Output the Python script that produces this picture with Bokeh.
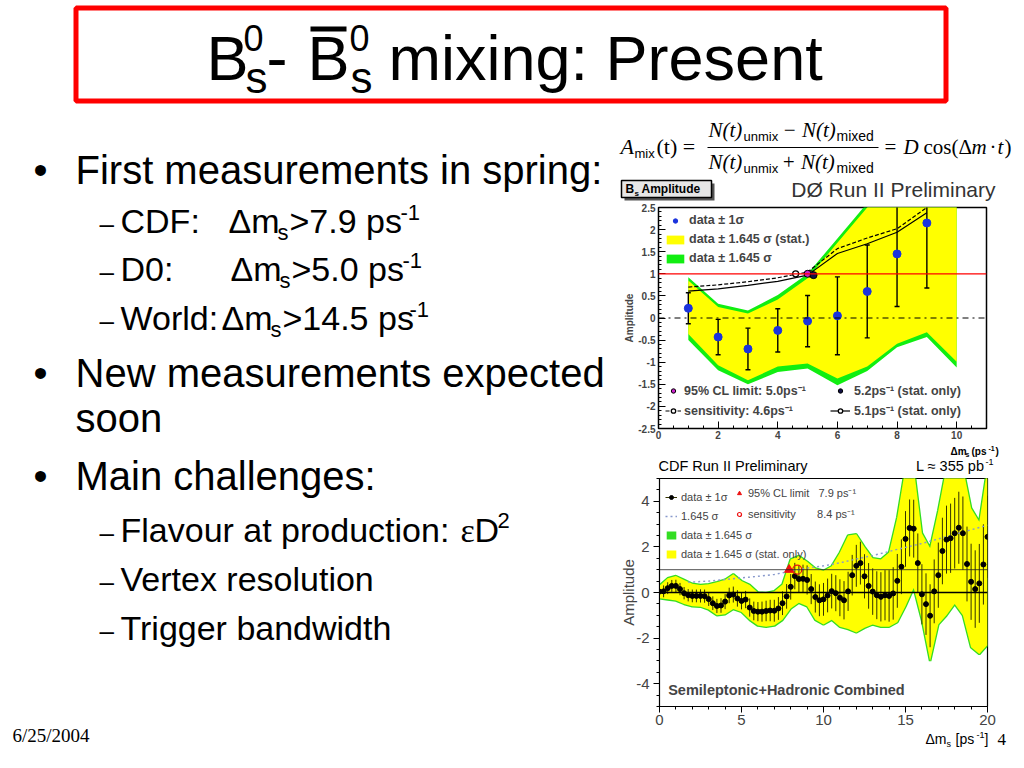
from bokeh.plotting import figure
from bokeh.layouts import column, row
from bokeh.models import (Range1d, Label, Legend, LegendItem, FixedTicker, Span,
                          ColumnDataSource)
from bokeh.embed import file_html
from bokeh.resources import INLINE

# ---------------- D0 data ----------------
d0_x = [1, 2, 3, 4, 5, 6, 7, 8, 9]
d0_amp = [0.22, -0.43, -0.70, -0.28, -0.07, 0.05, 0.60, 1.45, 2.15]
d0_err = [0.35, 0.40, 0.47, 0.49, 0.58, 0.88, 1.05, 1.19, 1.47]
d0_band_x = [1, 2, 3, 4, 5, 6, 7, 8, 9, 10]
d0_stat_hi = [0.85, 0.25, 0.10, 0.42, 0.90, 1.70, 2.50, 3.40, 4.60, 4.80]
d0_stat_lo = [-0.36, -1.07, -1.41, -1.10, -1.03, -1.37, -1.10, -0.58, -0.32, -0.99]
d0_tot_hi = [0.92, 0.32, 0.17, 0.52, 1.00, 1.80, 2.60, 3.60, 4.80, 5.00]
d0_tot_lo = [-0.50, -1.18, -1.50, -1.22, -1.14, -1.52, -1.20, -0.66, -0.43, -1.12]
d0_sens_x = [1, 2, 3, 4, 5, 6, 7, 8, 9]
d0_sens_tot = [0.70, 0.75, 0.82, 0.91, 1.04, 1.57, 1.81, 2.02, 2.50]
d0_sens_stat = [0.61, 0.66, 0.74, 0.83, 0.97, 1.46, 1.68, 1.94, 2.38]
d0_cross_x = [4.6, 5.1]
d0_cross_y = [1.0, 1.0]
d0_limit_x = [5.0]
d0_limit_y = [1.0]
d0_limstat_x = [5.2]
d0_limstat_y = [0.97]

# ---------------- CDF data ----------------
cdf_x = [0.0, 0.25, 0.5, 0.75, 1.0, 1.25, 1.5, 1.75, 2.0, 2.25, 2.5, 2.75, 3.0, 3.25, 3.5, 3.75,
         4.0, 4.25, 4.5, 4.75, 5.0, 5.25, 5.5, 5.75, 6.0, 6.25, 6.5, 6.75, 7.0, 7.25, 7.5, 7.75,
         8.0, 8.25, 8.5, 8.75, 9.0, 9.25, 9.5, 9.75, 10.0, 10.25, 10.5, 10.75, 11.0, 11.25, 11.5, 11.75,
         12.0, 12.25, 12.5, 12.75, 13.0, 13.25, 13.5, 13.75, 14.0, 14.25, 14.5, 14.75, 15.0, 15.25, 15.5, 15.75,
         16.0, 16.25, 16.5, 16.75, 17.0, 17.25, 17.5, 17.75, 18.0, 18.25, 18.5, 18.75, 19.0, 19.25, 19.5, 19.75, 20.0]
cdf_amp = [0.04, 0.05, 0.19, 0.29, 0.29, 0.15, -0.03, -0.12, -0.15, -0.15, -0.15, -0.16, -0.29, -0.47, -0.59, -0.57,
           -0.40, -0.13, -0.09, -0.26, -0.37, -0.31, -0.66, -0.81, -0.84, -0.84, -0.81, -0.79, -0.80, -0.70, -0.47, -0.17,
           0.25, 0.72, 0.59, 0.60, 0.55, 0.15, -0.20, -0.34, -0.30, -0.13, 0.06, -0.03, -0.23, -0.34, 0.05, 0.76,
           1.17, 1.29, 0.71, 0.29, 0.04, -0.12, -0.19, -0.12, -0.15, -0.04, 0.51, 1.13, 2.35, 2.83, 2.80, 1.29,
           -0.08, -0.51, -1.02, 0.05, 0.76, 1.82, 2.32, 2.38, 2.60, 2.84, 2.60, 1.25, 0.47, 0.15, 0.40, 1.23, 2.44]
cdf_err = [0.26, 0.26, 0.26, 0.26, 0.27, 0.27, 0.27, 0.27, 0.28,
           0.28, 0.29, 0.29, 0.30, 0.30, 0.31, 0.32, 0.33,
           0.34, 0.35, 0.36, 0.37, 0.38, 0.40, 0.41, 0.42,
           0.44, 0.45, 0.47, 0.48, 0.50, 0.52, 0.54, 0.56,
           0.58, 0.60, 0.62, 0.64, 0.66, 0.68, 0.70, 0.72,
           0.74, 0.76, 0.79, 0.81, 0.84, 0.86, 0.89, 0.92,
           0.94, 0.97, 1.00, 1.02, 1.05, 1.08, 1.10, 1.13,
           1.15, 1.18, 1.20, 1.22, 1.25, 1.27, 1.30, 1.32,
           1.35, 1.38, 1.40, 1.43, 1.46, 1.49, 1.52, 1.55,
           1.58, 1.61, 1.64, 1.67, 1.70, 1.73, 1.76, 1.80]
cdf_band_x = [0, 0.5, 1, 1.5, 2, 2.5, 3, 3.5, 4, 4.5, 5, 5.5, 6, 6.5, 7, 7.5, 8, 8.5, 9, 9.5, 10,
              10.5, 11, 11.5, 12, 12.5, 13, 13.5, 14, 14.5, 15, 15.5, 16, 16.5, 17, 17.5, 18, 18.5, 19, 19.5, 20]
cdf_stat_hi = [0.30, 0.62, 0.72, 0.55, 0.38, 0.33, 0.36, 0.45, 0.56, 0.80, 0.50, 0.33, 0.00, -0.02, 0.05, 0.35,
               1.45, 1.60, 1.35, 1.05, 0.95, 1.15, 1.75, 2.50, 2.55, 2.00, 1.50, 1.45, 1.75, 3.30, 5.50, 5.50,
               2.60, 1.95, 3.60, 5.50, 5.50, 5.50, 3.70, 3.10, 5.50]
cdf_stat_lo = [-0.25, -0.30, -0.35, -0.50, -0.60, -0.62, -0.75, -1.00, -0.95, -0.72, -0.85, -1.20, -1.45, -1.50,
               -1.45, -1.20, -0.70, -0.45, -0.60, -1.20, -1.40, -1.20, -1.50, -1.60, -1.75, -1.55, -1.40, -1.50,
               -1.50, -1.30, -0.60, 0.20, -1.20, -3.00, -1.40, -1.00, -0.50, -1.00, -2.40, -2.70, -2.30]
cdf_sens_x = [1.75, 3, 4, 5, 6, 7, 8, 9, 10, 11, 12, 13, 14, 15, 16, 17, 18, 19, 20]
cdf_sens_y = [0.45, 0.50, 0.57, 0.64, 0.71, 0.79, 0.94, 1.07, 1.17, 1.30, 1.47, 1.62, 1.80, 1.98, 2.15, 2.35,
              2.55, 2.75, 2.95]
cdf_limit_x = [7.9]
cdf_limit_y = [1.0]
cdf_senspt_x = [8.4]
cdf_senspt_y = [1.0]

SANS = "Liberation Sans"
SERIF = "Liberation Serif"


def T(fig, x, y, text, size, font=SANS, style="normal", color="black", align="left"):
    # y is the wanted text baseline (picture pixels); placed by its middle
    fig.add_layout(Label(x=x, y=y - 0.36 * size, text=text, text_font=font,
                         text_font_size=f"{size}px", text_font_style=style,
                         text_color=color, text_align=align, text_baseline="middle"))


def blank(w, h, xr, yr):
    p = figure(width=w, height=h, x_range=Range1d(*xr), y_range=Range1d(*yr),
               output_backend="svg", toolbar_location=None, min_border=0,
               x_axis_location=None, y_axis_location=None, frame_align=False)
    p.grid.visible = False
    p.outline_line_color = None
    p.background_fill_color = "white"
    p.border_fill_color = "white"
    return p


# ---------------- title ----------------
tf = blank(1024, 110, (0, 1024), (110, 0))
tf.quad(left=[75.5], right=[945.5], top=[7.5], bottom=[100.5], fill_color="white",
        line_color="#ff0000", line_width=5)
T(tf, 206, 80, "B", 63)
T(tf, 243, 50, "0", 36)
T(tf, 245, 93, "s", 44)
T(tf, 266, 80, "-", 63)
T(tf, 307, 80, "B", 63)
tf.quad(left=[310], right=[346], top=[26], bottom=[31], fill_color="black", line_color=None)
T(tf, 349, 50, "0", 36)
T(tf, 350, 93, "s", 44)
T(tf, 388, 80, "mixing: Present", 63)

# ---------------- left text ----------------
lf = blank(608, 658, (0, 608), (768, 110))
for yb, txt in [(184, "First measurements in spring:"), (387, "New measurements expected"),
                (490, "Main challenges:")]:
    T(lf, 33, yb, "\u2022", 40)
    T(lf, 75, yb, txt, 40)
T(lf, 75, 432, "soon", 40)
for yb in [233, 281, 330, 542, 591, 640]:
    T(lf, 99, yb, "\u2013", 26)
T(lf, 120, 233, "CDF:", 34)
T(lf, 228, 233, "\u0394m", 34)
T(lf, 277, 240, "s", 22)
T(lf, 289, 233, ">7.9 ps", 34)
T(lf, 400, 220, "-1", 22)
T(lf, 120, 281, "D0:", 34)
T(lf, 230, 281, "\u0394m", 34)
T(lf, 279, 288, "s", 22)
T(lf, 291, 281, ">5.0 ps", 34)
T(lf, 402, 268, "-1", 22)
T(lf, 120, 330, "World:", 34)
T(lf, 221, 330, "\u0394m", 34)
T(lf, 270, 337, "s", 22)
T(lf, 282, 330, ">14.5 ps", 34)
T(lf, 409, 317, "-1", 22)
T(lf, 120, 542, "Flavour at production:", 34)
T(lf, 460, 542, "\u03b5", 34, font=SERIF)
T(lf, 474, 542, "D", 34)
T(lf, 497, 528, "2", 22)
T(lf, 120, 591, "Vertex resolution", 34)
T(lf, 120, 640, "Trigger bandwidth", 34)
T(lf, 12, 742, "6/25/2004", 19, font=SERIF)

# ---------------- header (formula) ----------------
hf = blank(416, 91, (608, 1024), (201, 110))
T(hf, 620, 154, "A", 22, font=SERIF, style="italic")
T(hf, 634, 158, "mix", 13)
T(hf, 656, 154, "(t) =", 22, font=SERIF)
T(hf, 708, 137, "N(t)", 21, font=SERIF, style="italic")
T(hf, 743, 141, "unmix", 13)
T(hf, 782, 137, "\u2212 N(t)", 21, font=SERIF, style="italic")
T(hf, 836, 141, "mixed", 14)
hf.segment(x0=[707], y0=[147], x1=[878], y1=[147], line_color="black", line_width=1.2)
T(hf, 708, 169, "N(t)", 21, font=SERIF, style="italic")
T(hf, 743, 173, "unmix", 13)
T(hf, 781, 169, "+ N(t)", 21, font=SERIF, style="italic")
T(hf, 836, 173, "mixed", 14)
T(hf, 884, 154, "=", 21, font=SERIF)
T(hf, 903, 154, "D", 21, font=SERIF, style="italic")
T(hf, 923, 154, "cos(\u0394", 21, font=SERIF)
T(hf, 971, 154, "m", 21, font=SERIF, style="italic")
T(hf, 989, 154, "\u00b7", 21, font=SERIF)
T(hf, 997, 154, "t", 21, font=SERIF, style="italic")
T(hf, 1004, 154, ")", 21, font=SERIF)
hf.quad(left=[624], right=[714], top=[183], bottom=[200], fill_color="#555555", line_color=None)
hf.quad(left=[621], right=[711], top=[180], bottom=[197], fill_color="#e6e6e6",
        line_color="black", line_width=1.5)
T(hf, 625, 193, "B", 12, style="bold")
T(hf, 634, 196, "s", 8, style="bold")
T(hf, 641, 193, "Amplitude", 12, style="bold")
T(hf, 995, 197, "D\u00d8 Run II Preliminary", 21, color="#333333", align="right")

# ---------------- D0 plot ----------------
d0 = figure(width=416, height=244, x_range=Range1d(0, 11), y_range=Range1d(-2.5, 2.5),
            output_backend="svg", toolbar_location=None, frame_align=False,
            min_border_left=50, min_border_right=38, min_border_top=6, min_border_bottom=17)
d0.grid.visible = False
d0.background_fill_color = "white"
d0.border_fill_color = "white"
d0.outline_line_color = "black"
d0.outline_line_width = 1.5
g_d0 = d0.varea(x=d0_band_x, y1=d0_tot_lo, y2=d0_tot_hi, fill_color="#11ee11")
y_d0 = d0.varea(x=d0_band_x, y1=d0_stat_lo, y2=d0_stat_hi, fill_color="#ffff00")
d0.add_layout(Span(location=1, dimension="width", line_color="#ff0000", line_width=1.2))
d0.add_layout(Span(location=0, dimension="width", line_color="black", line_width=1,
                   line_dash="dashdot"))
l_tot = d0.line(d0_sens_x, d0_sens_tot, line_color="black", line_width=1.2, line_dash="4 2")
l_stat = d0.line(d0_sens_x, d0_sens_stat, line_color="black", line_width=1.2)
src0 = ColumnDataSource(dict(x=d0_x, amp=d0_amp,
                             lo=[a - e for a, e in zip(d0_amp, d0_err)],
                             hi=[a + e for a, e in zip(d0_amp, d0_err)]))
d0.segment(x0="x", y0="lo", x1="x", y1="hi", source=src0, line_color="black", line_width=1.4)
d0.scatter("x", "lo", source=src0, marker="dash", size=5, line_color="black", line_width=1.4)
d0.scatter("x", "hi", source=src0, marker="dash", size=5, line_color="black", line_width=1.4)
p_d0 = d0.scatter("x", "amp", source=src0, size=8, fill_color="#1a33dd", line_color="#1a33dd")
cross_r = d0.scatter(d0_cross_x, d0_cross_y, size=6, fill_color="white", line_color="black",
                     line_width=1.3)
lim_r = d0.scatter(d0_limit_x, d0_limit_y, size=7, fill_color="#cc22cc", line_color="black")
lims_r = d0.scatter(d0_limstat_x, d0_limstat_y, size=7, fill_color="#111144", line_color="black")

d0.xaxis.ticker = FixedTicker(ticks=[0, 2, 4, 6, 8, 10],
                              minor_ticks=[i * 0.5 for i in range(23)])
d0.yaxis.ticker = FixedTicker(ticks=[-2.5, -2, -1.5, -1, -0.5, 0, 0.5, 1, 1.5, 2, 2.5],
                              minor_ticks=[round(-2.5 + i * 0.1, 2) for i in range(51)])
d0.yaxis.major_label_overrides = {-2.5: "-2.5", -2: "-2", -1.5: "-1.5", -1: "-1", -0.5: "-0.5",
                                  0: "0", 0.5: "0.5", 1: "1", 1.5: "1.5", 2: "2", 2.5: "2.5"}
for ax in [d0.xaxis[0], d0.yaxis[0]]:
    ax.major_tick_in = 7
    ax.major_tick_out = 0
    ax.minor_tick_in = 3
    ax.minor_tick_out = 0
    ax.major_label_text_font = SANS
    ax.major_label_text_font_style = "bold"
    ax.major_label_text_font_size = "10px"
    ax.axis_line_color = "black"
d0.xaxis.major_label_standoff = 2
d0.yaxis.major_label_standoff = 3
d0.yaxis.axis_label = "Amplitude"
d0.yaxis.axis_label_text_font = SANS
d0.yaxis.axis_label_text_font_style = "bold"
d0.yaxis.axis_label_text_font_size = "10px"
d0.yaxis.axis_label_standoff = 0

common_leg = dict(border_line_color=None, background_fill_alpha=0, label_text_font=SANS,
                  label_text_font_style="bold", label_text_font_size="12.5px", label_height=12,
                  margin=0, padding=3)
d0.add_layout(Legend(items=[LegendItem(label="data \u00b1 1\u03c3", renderers=[p_d0]),
                            LegendItem(label="data \u00b1 1.645 \u03c3 (stat.)", renderers=[y_d0]),
                            LegendItem(label="data \u00b1 1.645 \u03c3", renderers=[g_d0])],
                     location=(6, 163), spacing=5, glyph_width=22, glyph_height=11,
                     label_standoff=3, **common_leg))
d0.add_layout(Legend(items=[LegendItem(label="95% CL limit: 5.0ps\u207b\u00b9", renderers=[lim_r]),
                            LegendItem(label="sensitivity: 4.6ps\u207b\u00b9",
                                       renderers=[l_tot, cross_r])],
                     location=(7, 9), spacing=3, glyph_width=16, glyph_height=11,
                     label_standoff=3, **common_leg))
d0.add_layout(Legend(items=[LegendItem(label="5.2ps\u207b\u00b9 (stat. only)", renderers=[lims_r]),
                            LegendItem(label="5.1ps\u207b\u00b9 (stat. only)",
                                       renderers=[l_stat, cross_r])],
                     location=(172, 9), spacing=3, glyph_width=20, glyph_height=11,
                     label_standoff=4, **common_leg))

# ---------------- gap between the two plots ----------------
mf = blank(416, 32, (608, 1024), (477, 445))
T(mf, 950, 455, "\u0394m", 10, style="bold")
T(mf, 965, 457, "s", 7, style="bold")
T(mf, 971, 455, "(ps", 10, style="bold")
T(mf, 988, 451, "-1", 7, style="bold")
T(mf, 995, 455, ")", 10, style="bold")
T(mf, 658, 471, "CDF Run II Preliminary", 14.5)
T(mf, 984, 471, "L \u2248 355 pb", 14.5, align="right")
T(mf, 985, 465, "-1", 9)

# ---------------- CDF plot ----------------
cf = figure(width=416, height=251, x_range=Range1d(0, 20), y_range=Range1d(-5, 5),
            output_backend="svg", toolbar_location=None, frame_align=False,
            min_border_left=51, min_border_right=37, min_border_top=1, min_border_bottom=22)
cf.grid.visible = False
cf.background_fill_color = "white"
cf.border_fill_color = "white"
cf.outline_line_color = "black"
cf.outline_line_width = 1.2
g_cf = cf.varea(x=cdf_band_x, y1=cdf_stat_lo, y2=cdf_stat_hi, fill_color="#33dd22")
cf.line(cdf_band_x, cdf_stat_hi, line_color="#33dd22", line_width=2.6)
cf.line(cdf_band_x, cdf_stat_lo, line_color="#33dd22", line_width=2.6)
y_cf = cf.varea(x=cdf_band_x, y1=cdf_stat_lo, y2=cdf_stat_hi, fill_color="#ffff00")
cf.add_layout(Span(location=0, dimension="width", line_color="black", line_width=1.3))
cf.add_layout(Span(location=1, dimension="width", line_color="#222222", line_width=0.8))
srcc = ColumnDataSource(dict(x=cdf_x, amp=cdf_amp,
                             lo=[a - e for a, e in zip(cdf_amp, cdf_err)],
                             hi=[a + e for a, e in zip(cdf_amp, cdf_err)]))
seg_cf = cf.segment(x0="x", y0="lo", x1="x", y1="hi", source=srcc, line_color="#333300",
                    line_width=1)
s_cf = cf.line(cdf_sens_x, cdf_sens_y, line_color="#8899cc", line_width=1.4, line_dash="2 3")
p_cf = cf.scatter("x", "amp", source=srcc, size=5, fill_color="black", line_color="black")
tri_r = cf.scatter(cdf_limit_x, cdf_limit_y, marker="triangle", size=9, fill_color="#ee1111",
                   line_color="#ee1111")
circ_r = cf.scatter(cdf_senspt_x, cdf_senspt_y, size=9, fill_color=None, line_color="#ee1111",
                    line_width=1.2)

cf.xaxis.ticker = FixedTicker(ticks=[0, 5, 10, 15, 20], minor_ticks=list(range(21)))
cf.yaxis.ticker = FixedTicker(ticks=[-4, -2, 0, 2, 4],
                              minor_ticks=[-5 + i * 0.5 for i in range(21)])
cf.yaxis.major_label_overrides = {-4: "-4", -2: "-2", 0: "0", 2: "2", 4: "4"}
for ax in [cf.xaxis[0], cf.yaxis[0]]:
    ax.major_tick_in = 0
    ax.major_tick_out = 6
    ax.minor_tick_in = 0
    ax.minor_tick_out = 3
    ax.major_label_text_font = SANS
    ax.major_label_text_font_size = "15px"
    ax.axis_line_color = "black"
cf.xaxis.major_label_standoff = 2
cf.yaxis.major_label_standoff = 4
cf.yaxis.axis_label = "Amplitude"
cf.yaxis.axis_label_text_font = SANS
cf.yaxis.axis_label_text_font_style = "normal"
cf.yaxis.axis_label_text_font_size = "15px"
cf.yaxis.axis_label_standoff = -4

leg_c = dict(border_line_color=None, background_fill_alpha=0, label_text_font=SANS,
             label_text_font_size="11px", label_height=10, margin=0, padding=3)
cf.add_layout(Legend(items=[LegendItem(label="data \u00b1 1\u03c3", renderers=[seg_cf, p_cf]),
                            LegendItem(label="1.645 \u03c3", renderers=[s_cf]),
                            LegendItem(label="data \u00b1 1.645 \u03c3", renderers=[g_cf]),
                            LegendItem(label="data \u00b1 1.645 \u03c3 (stat. only)",
                                       renderers=[y_cf])],
                     location=(6, 146), spacing=7, glyph_width=12, glyph_height=10,
                     label_standoff=4, **leg_c))
cf.add_layout(Legend(items=[LegendItem(label="95% CL limit\u00a0\u00a0\u00a07.9 ps\u207b\u00b9",
                                       renderers=[tri_r]),
                            LegendItem(label="sensitivity\u00a0\u00a0\u00a0\u00a0\u00a0\u00a0\u00a08.4 ps\u207b\u00b9",
                                       renderers=[circ_r])],
                     location=(75, 185), spacing=6, glyph_width=10, glyph_height=10,
                     label_standoff=4, **leg_c))
cf.add_layout(Label(x=0.53, y=-4.28, text="Semileptonic+Hadronic Combined", text_font=SANS,
                    text_font_size="14.5px", text_font_style="bold", text_baseline="middle"))

# ---------------- bottom strip ----------------
bf = blank(416, 40, (608, 1024), (768, 728))
T(bf, 925, 744, "\u0394m", 14)
T(bf, 946, 747, "s", 9)
T(bf, 955, 744, "[ps", 14)
T(bf, 976, 738, "-1", 9)
T(bf, 984, 744, "]", 14)
T(bf, 997, 745, "4", 17, font=SERIF)

layout = column(tf, row(lf, column(hf, d0, mf, cf, bf)))
open("out.html", "w").write(file_html(layout, INLINE))
